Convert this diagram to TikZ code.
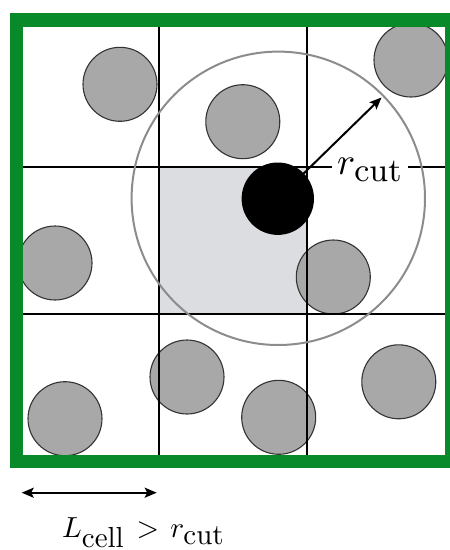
\documentclass[tikz,border=0pt]{standalone}
\usetikzlibrary{arrows.meta}
\definecolor{boxgreen}{RGB}{8,137,42}
\definecolor{cellgray}{RGB}{220,221,224}
\definecolor{partgray}{RGB}{167,168,167}
\definecolor{rangegray}{RGB}{140,140,142}
\tikzset{
  particle/.style={circle, draw=black!80, line width=1.1pt, fill=partgray, minimum size=74pt, inner sep=0pt, outer sep=0pt},
  gridline/.style={line width=2pt, black},
  tipstyle/.style={-{Stealth[length=12pt,width=10pt,inset=2.5pt]}, line width=2pt},
  bothtip/.style={{Stealth[length=12pt,width=10pt,inset=2.5pt]}-{Stealth[length=12pt,width=10pt,inset=2.5pt]}, line width=2pt}
}
\begin{document}
\begin{tikzpicture}[x=1pt,y=-1pt]
\useasboundingbox (0,0) rectangle (450,550);
% highlighted cell
\fill[cellgray] (159.3,166.7) rectangle (307.3,314);
% particles
\node[particle] (p1) at (120,84.3) {};
\node[particle] (p2) at (242.8,121.7) {};
\node[particle] (p3) at (411,60) {};
\node[particle] (p4) at (55,263) {};
\node[particle] (p5) at (333.3,277) {};
\node[particle] (p6) at (187,377) {};
\node[particle] (p7) at (65,418.7) {};
\node[particle] (p8) at (278.7,417.3) {};
\node[particle] (p9) at (398.8,381.8) {};
% grid
\coordinate (v1t) at (159.3,20);
\coordinate (v1b) at (159.3,461);
\coordinate (v2t) at (307.3,20);
\coordinate (v2b) at (307.3,461);
\coordinate (h1l) at (16,166.7);
\coordinate (h1r) at (452,166.7);
\coordinate (h2l) at (16,314);
\coordinate (h2r) at (452,314);
\draw[gridline] (v1t) -- (v1b);
\draw[gridline] (v2t) -- (v2b);
\draw[gridline] (h1l) -- (h1r);
\draw[gridline] (h2l) -- (h2r);
% cutoff sphere
\node[circle, draw=rangegray, line width=2pt, minimum size=293.4pt, inner sep=0pt] (range) at (278.3,198.3) {};
% radius arrow
\coordinate (tip) at (381.5,97.5);
\draw[tipstyle] (277.8,198.7) coordinate (ctr) -- (tip);
% central particle
\node[circle, fill=black, minimum size=72.4pt, inner sep=0pt] (centre) at (ctr) {};
% label r_cut
\node[anchor=base west, fill=white, inner xsep=5pt, inner ysep=2pt] (rlabel) at (332,174)
  {\scalebox{3.8}{$r_{\hbox{\fontsize{8.7}{10}\selectfont cut}}$}};
% outer box
\draw[boxgreen, line width=13.5pt] (16.3,20) rectangle (452,461.3);
% cell length arrow
\coordinate (la) at (21.7,492.7);
\coordinate (lb) at (156.7,492.7);
\draw[bothtip] (la) -- (lb);
\node[anchor=base west, inner sep=0pt] (llabel) at (62,537)
  {\scalebox{2.9}{$L_{\hbox{\normalsize cell}}\mkern2mu>\mkern2mu r_{\hbox{\normalsize cut}}$}};
\end{tikzpicture}
\end{document}
